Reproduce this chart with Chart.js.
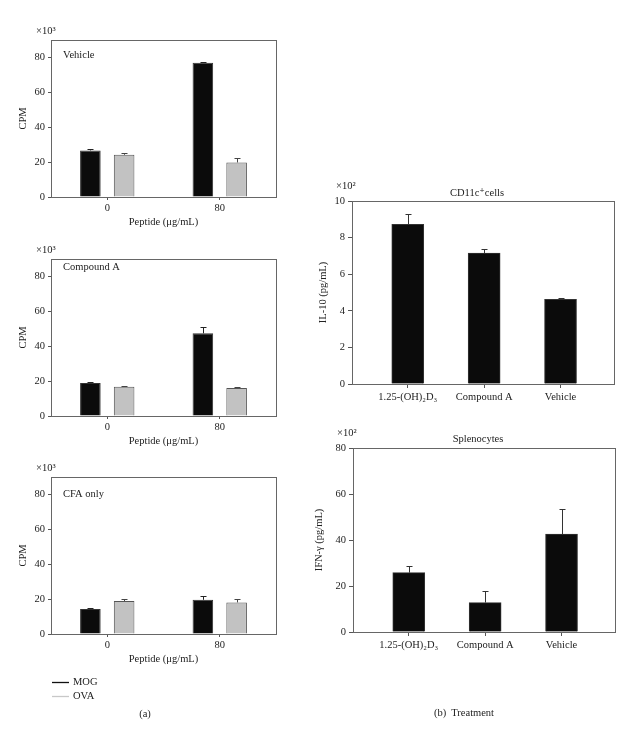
<!DOCTYPE html>
<html><head><meta charset="utf-8">
<script src="https://cdn.jsdelivr.net/npm/chart.js@4"></script>
<style>
body{margin:0;background:#fff;width:642px;height:729px;position:relative;overflow:hidden;font-family:"Liberation Serif","DejaVu Serif",serif;color:#222}
canvas{position:absolute}
.cap{position:absolute;font-size:10.5px;white-space:pre;transform:translate(-50%,-50%)}
</style></head><body>
<canvas id="p1" width="320" height="230"></canvas>
<canvas id="p2" width="320" height="230"></canvas>
<canvas id="p3" width="320" height="292"></canvas>
<canvas id="r1" width="352" height="250"></canvas>
<canvas id="r2" width="352" height="250"></canvas>
<div class="cap" style="left:145px;top:713px">(a)</div>
<div class="cap" style="left:464px;top:712px">(b)  Treatment</div>
<script>
// ---- data ----
const peptideDoses = ['0', '80'];
const vehicleMOG = [26.7, 77.0];
const vehicleMOGErr = [0.9, 0.5];
const vehicleOVA = [24.2, 19.8];
const vehicleOVAErr = [0.8, 2.5];
const compAMOG = [18.9, 47.4];
const compAMOGErr = [0.6, 3.6];
const compAOVA = [16.8, 16.0];
const compAOVAErr = [0.6, 0.8];
const cfaMOG = [14.3, 19.6];
const cfaMOGErr = [0.6, 1.9];
const cfaOVA = [18.9, 18.1];
const cfaOVAErr = [1.1, 1.8];
const cpmTicks = [0, 20, 40, 60, 80];

const treatments = ['1.25-(OH)₂D₃', 'Compound A', 'Vehicle'];
const il10 = [8.73, 7.15, 4.62];
const il10Err = [0.56, 0.23, 0.09];
const il10Ticks = [0, 2, 4, 6, 8, 10];
const ifng = [25.8, 12.8, 42.6];
const ifngErr = [3.1, 5.2, 11.0];
const ifngTicks = [0, 20, 40, 60, 80];

// ---- style ----
const FONT = {family: '"Liberation Serif","DejaVu Serif",serif', size: 10.5};
Chart.defaults.font.family = FONT.family;
Chart.defaults.font.size = FONT.size;
Chart.defaults.color = '#222';
const AXIS = '#555';

const errorBars = {
  id: 'errorBars',
  afterDatasetsDraw(chart) {
    const ctx = chart.ctx, y = chart.scales.y;
    chart.data.datasets.forEach((ds, i) => {
      if (!ds.errors) return;
      const meta = chart.getDatasetMeta(i);
      meta.data.forEach((bar, j) => {
        const raw = ds.data[j];
        const v = typeof raw === 'object' ? raw.y : raw;
        const top = y.getPixelForValue(v + ds.errors[j]);
        const x = Math.round(bar.x) + 0.5;
        ctx.save();
        ctx.strokeStyle = ds.errColor || '#333';
        ctx.lineWidth = 1;
        ctx.beginPath();
        ctx.moveTo(x, bar.y);
        ctx.lineTo(x, Math.round(top) + 0.5);
        ctx.moveTo(x - 3, Math.round(top) + 0.5);
        ctx.lineTo(x + 3, Math.round(top) + 0.5);
        ctx.stroke();
        ctx.restore();
      });
    });
  }
};

const frame = {
  id: 'frame',
  afterDraw(chart) {
    const a = chart.chartArea, ctx = chart.ctx;
    ctx.save();
    ctx.strokeStyle = '#666';
    ctx.lineWidth = 1;
    ctx.strokeRect(Math.round(a.left) + 0.5, Math.round(a.top) + 0.5,
      Math.round(a.right - a.left), Math.round(a.bottom - a.top));
    ctx.restore();
  }
};

const panelText = {
  id: 'panelText',
  afterDraw(chart, args, o) {
    const a = chart.chartArea, ctx = chart.ctx;
    ctx.save();
    ctx.font = FONT.size + 'px ' + FONT.family;
    ctx.fillStyle = '#222';
    ctx.textBaseline = 'middle';
    ctx.textAlign = 'left';
    if (o.expo) ctx.fillText(o.expo, a.left + o.expoDx, a.top + o.expoDy);
    if (o.name) ctx.fillText(o.name, a.left + 12, a.top + o.nameDy);
    if (o.title) {
      ctx.textAlign = 'center';
      ctx.fillText(o.title, (a.left + a.right) / 2 + o.titleDx, a.top + o.titleDy);
    }
    if (o.legend) {
      chart.data.datasets.forEach((ds, i) => {
        const yy = Math.round(a.bottom + 48 + i * 14) + 0.5;
        ctx.strokeStyle = ds.legendColor;
        ctx.lineWidth = 1.3;
        ctx.beginPath();
        ctx.moveTo(a.left + 1, yy);
        ctx.lineTo(a.left + 18, yy);
        ctx.stroke();
        ctx.textAlign = 'left';
        ctx.fillStyle = '#222';
        ctx.fillText(ds.label, a.left + 22, yy);
      });
    }
    ctx.restore();
  }
};

function cpmPanel(id, plotTop, name, nameDy, mog, mogErr, ova, ovaErr, legend) {
  const cv = document.getElementById(id);
  const H = cv.height;
  cv.style.left = '0px';
  cv.style.top = (plotTop - 40) + 'px';
  new Chart(cv, {
    type: 'bar',
    data: {
      labels: peptideDoses,
      datasets: [
        {label: 'MOG', data: mog, errors: mogErr, backgroundColor: '#0b0b0b', borderColor: '#333',
         borderWidth: 1, errColor: '#222', legendColor: '#111'},
        {label: 'OVA', data: ova, errors: ovaErr, backgroundColor: '#c2c2c2', borderColor: '#555',
         borderWidth: 1, errColor: '#444', legendColor: '#c8c8c8'}
      ]
    },
    options: {
      responsive: false, animation: false, devicePixelRatio: 1,
      categoryPercentage: 0.6, barPercentage: 0.61,
      layout: {padding: {top: 40, right: 44, left: 0, bottom: 0}},
      plugins: {
        legend: {display: false}, tooltip: {enabled: false},
        panelText: {expo: '×10³', expoDx: -15, expoDy: -9, name: name, nameDy: nameDy, legend: legend}
      },
      scales: {
        x: {
          grid: {drawOnChartArea: false, offset: false, tickLength: 3, color: AXIS},
          border: {color: AXIS},
          ticks: {padding: 2, maxRotation: 0},
          title: {display: true, text: 'Peptide (μg/mL)', padding: {top: 0, bottom: H - 228.3}},
          afterFit: s => { s.height = H - 197; }
        },
        y: {
          min: 0, max: 90,
          afterBuildTicks: s => { s.ticks = cpmTicks.map(v => ({value: v})); },
          grid: {drawOnChartArea: false, tickLength: 3, color: AXIS},
          border: {color: AXIS},
          ticks: {padding: 3},
          title: {display: true, text: 'CPM', padding: {top: 16.7, bottom: 0}},
          afterFit: s => { s.width = 51; }
        }
      }
    },
    plugins: [errorBars, frame, panelText]
  });
}

function treatPanel(id, cTop, padTop, yW, padRight, xH, title, titleDy, yTitle, yTitlePad, vals, errs, max, ticks) {
  const cv = document.getElementById(id);
  cv.style.left = '290px';
  cv.style.top = cTop + 'px';
  new Chart(cv, {
    type: 'bar',
    data: {
      datasets: [{label: yTitle, data: vals.map((v, i) => ({x: i, y: v})), errors: errs,
        backgroundColor: '#0b0b0b', borderColor: '#333', borderWidth: 1, errColor: '#333', barThickness: 32}]
    },
    options: {
      responsive: false, animation: false, devicePixelRatio: 1,
      layout: {padding: {top: padTop, right: padRight, left: 0, bottom: 0}},
      plugins: {
        legend: {display: false}, tooltip: {enabled: false},
        panelText: {expo: '×10²', expoDx: -16, expoDy: -15, title: title, titleDx: -6, titleDy: titleDy}
      },
      scales: {
        x: {
          type: 'linear', min: -0.73, max: 2.7, offset: false,
          afterBuildTicks: s => { s.ticks = treatments.map((t, i) => ({value: i})); },
          grid: {drawOnChartArea: false, offset: false, tickLength: 4, color: AXIS},
          border: {color: AXIS},
          ticks: {padding: 3, maxRotation: 0, autoSkip: false, callback: v => treatments[v]},
          afterFit: s => { s.height = xH; }
        },
        y: {
          min: 0, max: max,
          afterBuildTicks: s => { s.ticks = ticks.map(v => ({value: v})); },
          grid: {drawOnChartArea: false, tickLength: 4, color: AXIS},
          border: {color: AXIS},
          ticks: {padding: 3},
          title: {display: true, text: yTitle, padding: {top: yTitlePad, bottom: 0}},
          afterFit: s => { s.width = yW; }
        }
      }
    },
    plugins: [errorBars, frame, panelText]
  });
}

cpmPanel('p1', 40, 'Vehicle', 15, vehicleMOG, vehicleMOGErr, vehicleOVA, vehicleOVAErr, false);
cpmPanel('p2', 259, 'Compound A', 8.5, compAMOG, compAMOGErr, compAOVA, compAOVAErr, false);
cpmPanel('p3', 477, 'CFA only', 17, cfaMOG, cfaMOGErr, cfaOVA, cfaOVAErr, true);

treatPanel('r1', 160, 41, 62, 28, 26, 'CD11c⁺cells', -8, 'IL-10 (pg/mL)', 26.7, il10, il10Err, 10, il10Ticks);
treatPanel('r2', 410, 38, 63, 27, 28, 'Splenocytes', -9, 'IFN-γ (pg/mL)', 23, ifng, ifngErr, 80, ifngTicks);
</script>
</body></html>
